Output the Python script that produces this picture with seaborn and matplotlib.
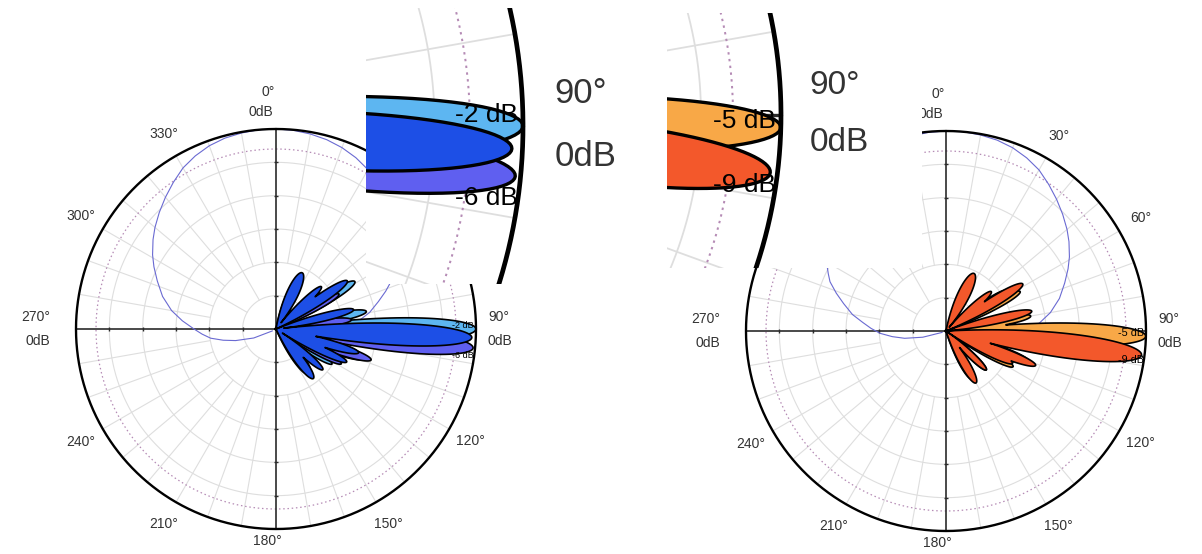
import numpy as np
import matplotlib
matplotlib.use("Agg")
import matplotlib.pyplot as plt
import seaborn as sns
import pandas as pd

sns.set_theme(style="white")
plt.rcParams["font.family"] = ["Liberation Sans", "DejaVu Sans"]

W, H = 1202, 554

# ----------------------------- data -----------------------------
tick_angles = [0, 30, 60, 90, 120, 150, 180, 210, 240, 270, 300, 330]
level_label = "0dB"
ring_radii = [1 / 6, 2 / 6, 3 / 6, 4 / 6, 5 / 6]   # 5 dB rings on a 30 dB scale
ref_ring = 0.9                                       # -3 dB dotted ring

# thin blue reference pattern (left panel; right panel is its mirror)
ref_angles = [-118, -112, -106, -102, -98, -94, -90, -85, -80, -74, -68, -63, -59, -54,
              -50, -45, -40, -35, -30, -25, -20, -15, -10, -5, 0, 5, 10, 15, 20, 25, 30,
              35, 40, 45, 50, 55, 60, 64, 67, 71, 75, 80, 84, 88, 92, 96, 100, 105, 110]
ref_radius = [0.02, 0.12, 0.21, 0.27, 0.33, 0.37, 0.41, 0.47, 0.53, 0.59, 0.64, 0.685, 0.72, 0.76,
              0.79, 0.825, 0.86, 0.895, 0.93, 0.955, 0.975, 0.988, 0.995, 1.0, 1.0, 0.997, 0.99,
              0.98, 0.965, 0.945, 0.92, 0.89, 0.86, 0.82, 0.78, 0.735, 0.69, 0.655, 0.63, 0.58,
              0.53, 0.475, 0.42, 0.375, 0.33, 0.27, 0.21, 0.12, 0.02]

# left panel lobes: direction (deg), normalised level, half width (deg)
blue_light_dir = [24, 50, 59, 79, 90, 109, 122, 141]
blue_light_lvl = [0.27, 0.28, 0.46, 0.46, 1.00, 0.46, 0.33, 0.27]
blue_light_wid = [13, 9, 9, 8, 9, 8, 8, 12]

blue_violet_dir = [26, 61, 83, 95.5, 108, 118, 145]
blue_violet_lvl = [0.24, 0.36, 0.38, 0.99, 0.50, 0.37, 0.27]
blue_violet_wid = [12, 8, 8, 9, 8, 8, 12]

blue_dark_dir = [25, 47, 56, 76, 92.5, 106, 115, 131, 143]
blue_dark_lvl = [0.31, 0.31, 0.43, 0.40, 0.98, 0.43, 0.39, 0.31, 0.31]
blue_dark_wid = [15, 9, 9, 8, 9, 8, 8, 9, 12]

# right panel lobes
orange_dir = [28, 56, 62, 80, 91.5, 110, 118, 134, 152]
orange_lvl = [0.26, 0.36, 0.42, 0.43, 1.00, 0.44, 0.38, 0.28, 0.27]
orange_wid = [12, 8, 8, 8, 9, 8, 8, 9, 11]

red_dir = [26, 49, 58.5, 77, 97, 111, 116, 134, 150]
red_lvl = [0.32, 0.30, 0.45, 0.44, 0.985, 0.48, 0.37, 0.28, 0.30]
red_wid = [15, 9, 9, 8, 10, 8, 8, 9, 12]

left_notes = ["-2 dB", "-6 dB"]
right_notes = ["-5 dB", "-9 dB"]

# ------------------------------------------------------------------
left_series = [
    (blue_light_dir, blue_light_lvl, blue_light_wid, "#5db6f1"),
    (blue_violet_dir, blue_violet_lvl, blue_violet_wid, "#5f5ff0"),
    (blue_dark_dir, blue_dark_lvl, blue_dark_wid, "#1d4fe6"),
]
right_series = [
    (orange_dir, orange_lvl, orange_wid, "#f8a847"),
    (red_dir, red_lvl, red_wid, "#f3582b"),
]

PHI = np.arange(0, 360.01, 0.25)


def lobe_outline(dirs, lvls, wids, floor=0.004):
    r = np.full_like(PHI, floor)
    for a, l, w in zip(dirs, lvls, wids):
        d = (PHI - a + 180) % 360 - 180
        m = np.abs(d) < w
        r[m] = np.maximum(r[m], l * np.cos(np.pi / 2 * d[m] / w))
    return r


def to_xy(ang_deg, r):
    t = np.radians(np.asarray(ang_deg, dtype=float))
    r = np.asarray(r, dtype=float)
    return r * np.sin(t), r * np.cos(t)


def draw_panel(ax, series, notes, note_pos, mirror, s=1.0, g=1.0, lab_fs=10, note_fs=6.5,
               clip=False, hidden=(), only_side=False):
    circ = np.linspace(0, 360, 1441)
    # grid rings
    for rr in ring_radii:
        x, y = to_xy(circ, np.full_like(circ, rr))
        ax.plot(x, y, color="#dedede", lw=0.8 * g, zorder=1)
    # spokes
    for a in range(0, 360, 10):
        if a % 90 == 0:
            continue
        r0 = 1 / 6 if a % 30 == 0 else 2 / 6
        x, y = to_xy([a, a], [r0, 1.0])
        ax.plot(x, y, color="#dedede", lw=0.8 * g, zorder=1)
    # dotted -3 dB ring
    x, y = to_xy(circ, np.full_like(circ, ref_ring))
    ax.plot(x, y, color="#b58bb5", lw=0.9 * g, ls=(0, (1.2, 2.2)), zorder=2)
    # axis lines
    ax.plot([-1, 1], [0, 0], color="#2b2b2b", lw=1.2 * s, zorder=2)
    ax.plot([0, 0], [-1, 1], color="#2b2b2b", lw=1.2 * s, zorder=2)
    for rr in ring_radii:
        for sign in (-1, 1):
            ax.plot([sign * rr], [0], marker="|", ms=3 * s, mew=1.0 * s, color="#2b2b2b", zorder=2)
            ax.plot([0], [sign * rr], marker="_", ms=3 * s, mew=1.0 * s, color="#2b2b2b", zorder=2)
    # blue reference pattern
    ang = -np.asarray(ref_angles, float) if mirror else np.asarray(ref_angles, float)
    rx, ry = to_xy(ang, ref_radius)
    df = pd.DataFrame({"x": rx, "y": ry})
    sns.lineplot(data=df, x="x", y="y", sort=False, estimator=None, ax=ax,
                 color="#6a6ad2", lw=0.8 * g, zorder=3)
    ax.set_xlabel("")
    ax.set_ylabel("")
    # lobes
    for k, (d, l, w, c) in enumerate(series):
        r = lobe_outline(d, l, w)
        x, y = to_xy(PHI, r)
        ax.fill(x, y, facecolor=c, edgecolor="black", lw=1.2 * s, zorder=4 + k,
                joinstyle="round")
    # outer circle
    x, y = to_xy(circ, np.ones_like(circ))
    ax.plot(x, y, color="black", lw=1.7 * s, zorder=9)
    # angle labels
    tc = "#333333"
    kw = dict(color=tc, fontsize=lab_fs, va="center", clip_on=clip, zorder=10)
    for a in tick_angles:
        if a in hidden or (only_side and a != 90):
            continue
        lab = f"{a}°"
        if a == 0:
            ax.text(-0.04, 1.185, lab, ha="center", **kw)
            ax.text(-0.075, 1.085, level_label, ha="center", **kw)
        elif a == 90:
            ax.text(1.06, 0.062, lab, ha="left", **kw)
            ax.text(1.06, -0.058, level_label, ha="left", **kw)
        elif a == 270:
            ax.text(-1.13, 0.062, lab, ha="right", **kw)
            ax.text(-1.13, -0.058, level_label, ha="right", **kw)
        elif a == 180:
            ax.text(-0.045, -1.06, lab, ha="center", **kw)
        else:
            tx, ty = to_xy([a], [1.125])
            ax.text(tx[0], ty[0], lab, ha="center", **kw)
    # lobe notes
    for txt, (nx, ny) in zip(notes, note_pos):
        ax.text(nx, ny, txt, ha="right", va="center", fontsize=note_fs, color="black",
                clip_on=clip, zorder=10)


fig = plt.figure(figsize=(W / 100, H / 100), dpi=100)
fig.patch.set_facecolor("white")


def main_axes(cx, cy, R=200, ext=1.45):
    ax = fig.add_axes([(cx - ext * R) / W, (H - cy - ext * R) / H, 2 * ext * R / W, 2 * ext * R / H],
                      zorder=1)
    ax.set_xlim(-ext, ext)
    ax.set_ylim(-ext, ext)
    ax.axis("off")
    return ax


def zoom_axes(px0, px1, py0, py1, ax_px, ax_py, scale):
    ax = fig.add_axes([px0 / W, (H - py1) / H, (px1 - px0) / W, (py1 - py0) / H], zorder=5)
    ax.set_xlim(1 + (px0 - ax_px) / scale, 1 + (px1 - ax_px) / scale)
    ax.set_ylim((ax_py - py1) / scale, (ax_py - py0) / scale)
    ax.set_xticks([])
    ax.set_yticks([])
    for sp in ax.spines.values():
        sp.set_visible(False)
    ax.set_facecolor("white")
    return ax


left_note_pos = [(0.99, 0.02), (0.99, -0.135)]
right_note_pos = [(0.99, -0.012), (0.99, -0.145)]

axL = main_axes(276, 329)
draw_panel(axL, left_series, left_notes, left_note_pos, mirror=False, note_fs=6.5,
           hidden=(30, 60))

axR = main_axes(946, 331)
draw_panel(axR, right_series, right_notes, right_note_pos, mirror=True, note_fs=7.8,
           hidden=(300, 330))

# magnified views around the 90 deg direction
zL = zoom_axes(366, 640, 8, 284, 523, 126, 530)
draw_panel(zL, left_series, left_notes, left_note_pos, mirror=False, s=2.0, g=1.6,
           lab_fs=25, note_fs=19, clip=True, only_side=True)

zR = zoom_axes(667, 922, 13, 268, 781, 115, 480)
draw_panel(zR, right_series, right_notes, right_note_pos, mirror=True, s=2.0, g=1.6,
           lab_fs=24, note_fs=19, clip=True, only_side=True)

fig.savefig("out.png", dpi=100, facecolor="white")
